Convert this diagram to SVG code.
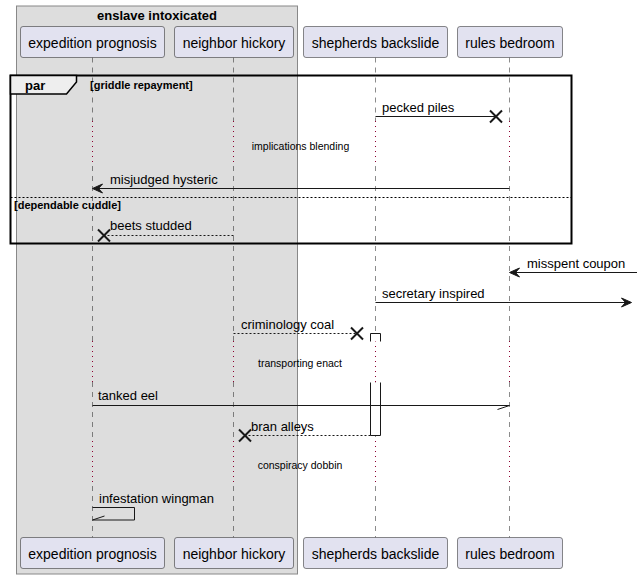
<svg xmlns="http://www.w3.org/2000/svg" width="637" height="579" viewBox="0 0 637 579">
<defs>
<style>
text{font-family:"Liberation Sans",Arial,sans-serif;fill:#000}
.p{fill:#E2E2F0;stroke:#181818;stroke-width:0.5}
.pt{font-size:14px;text-anchor:middle}
.ll{stroke:#181818;stroke-width:0.5;stroke-dasharray:5,5;fill:none}
.dl{stroke:#8B0030;stroke-width:1;stroke-dasharray:1,4;fill:none}
.m{stroke:#181818;stroke-width:1;fill:none}
.d{stroke:#181818;stroke-width:1;fill:none;stroke-dasharray:2,2}
.x{stroke:#181818;stroke-width:2;fill:none}
.ah{fill:#181818;stroke:#181818;stroke-width:1}
.ml{font-size:13px}
.dt{font-size:10.5px;text-anchor:middle}
.b{font-weight:bold}
</style>
</defs>
<g id="box-enslave">
<rect x="16.5" y="6" width="281" height="568" fill="#DDDDDD" stroke="#888888" stroke-width="1"/>
<text x="157" y="19.5" class="b" font-size="13" text-anchor="middle">enslave intoxicated</text>
</g>
<g id="lifelines">
<line x1="92.5" y1="57.5" x2="92.5" y2="121" class="ll"/>
<line x1="92.5" y1="121" x2="92.5" y2="166" class="dl"/>
<line x1="92.5" y1="166" x2="92.5" y2="341" class="ll"/>
<line x1="92.5" y1="341" x2="92.5" y2="382" class="dl"/>
<line x1="92.5" y1="382" x2="92.5" y2="441" class="ll"/>
<line x1="92.5" y1="441" x2="92.5" y2="486" class="dl"/>
<line x1="92.5" y1="486" x2="92.5" y2="537.5" class="ll"/>
<line x1="233.5" y1="57.5" x2="233.5" y2="121" class="ll"/>
<line x1="233.5" y1="121" x2="233.5" y2="166" class="dl"/>
<line x1="233.5" y1="166" x2="233.5" y2="341" class="ll"/>
<line x1="233.5" y1="341" x2="233.5" y2="382" class="dl"/>
<line x1="233.5" y1="382" x2="233.5" y2="441" class="ll"/>
<line x1="233.5" y1="441" x2="233.5" y2="486" class="dl"/>
<line x1="233.5" y1="486" x2="233.5" y2="537.5" class="ll"/>
<line x1="375.5" y1="57.5" x2="375.5" y2="121" class="ll"/>
<line x1="375.5" y1="121" x2="375.5" y2="166" class="dl"/>
<line x1="375.5" y1="166" x2="375.5" y2="341" class="ll"/>
<line x1="375.5" y1="341" x2="375.5" y2="382" class="dl"/>
<line x1="375.5" y1="382" x2="375.5" y2="441" class="ll"/>
<line x1="375.5" y1="441" x2="375.5" y2="486" class="dl"/>
<line x1="375.5" y1="486" x2="375.5" y2="537.5" class="ll"/>
<line x1="509.5" y1="57.5" x2="509.5" y2="121" class="ll"/>
<line x1="509.5" y1="121" x2="509.5" y2="166" class="dl"/>
<line x1="509.5" y1="166" x2="509.5" y2="341" class="ll"/>
<line x1="509.5" y1="341" x2="509.5" y2="382" class="dl"/>
<line x1="509.5" y1="382" x2="509.5" y2="441" class="ll"/>
<line x1="509.5" y1="441" x2="509.5" y2="486" class="dl"/>
<line x1="509.5" y1="486" x2="509.5" y2="537.5" class="ll"/>
</g>
<g id="p-expedition-top"><rect x="20.5" y="26.5" width="144" height="31" rx="2.5" class="p"/><text x="92.5" y="47.5" class="pt">expedition prognosis</text></g>
<g id="p-neighbor-top"><rect x="174.5" y="26.5" width="119" height="31" rx="2.5" class="p"/><text x="234" y="47.5" class="pt">neighbor hickory</text></g>
<g id="p-shepherds-top"><rect x="303.5" y="26.5" width="144" height="31" rx="2.5" class="p"/><text x="375.5" y="47.5" class="pt">shepherds backslide</text></g>
<g id="p-rules-top"><rect x="457.5" y="26.5" width="105" height="31" rx="2.5" class="p"/><text x="510" y="47.5" class="pt">rules bedroom</text></g>
<g id="p-expedition-bottom"><rect x="20.5" y="537.5" width="144" height="31" rx="2.5" class="p"/><text x="92.5" y="558.5" class="pt">expedition prognosis</text></g>
<g id="p-neighbor-bottom"><rect x="174.5" y="537.5" width="119" height="31" rx="2.5" class="p"/><text x="234" y="558.5" class="pt">neighbor hickory</text></g>
<g id="p-shepherds-bottom"><rect x="303.5" y="537.5" width="144" height="31" rx="2.5" class="p"/><text x="375.5" y="558.5" class="pt">shepherds backslide</text></g>
<g id="p-rules-bottom"><rect x="457.5" y="537.5" width="105" height="31" rx="2.5" class="p"/><text x="510" y="558.5" class="pt">rules bedroom</text></g>
<g id="activation">
<path d="M370.5,341.5 L370.5,333.5 L380.5,333.5 L380.5,341.5" fill="#FFFFFF" stroke="#181818" stroke-width="1"/>
<path d="M370.5,382.5 L370.5,435.5 L380.5,435.5 L380.5,382.5" fill="#FFFFFF" stroke="#181818" stroke-width="1"/>
</g>
<g id="frame-par">
<rect x="10.5" y="75.5" width="561" height="168" fill="none" stroke="#000" stroke-width="2"/>
<path d="M10.5,75.5 L76.5,75.5 L76.5,82 L66.5,94 L10.5,94 Z" fill="#EEEEEE" stroke="#000" stroke-width="1.5"/>
<text x="25" y="89.5" class="b" font-size="13">par</text>
<text x="90" y="88.5" class="b" font-size="11">[griddle repayment]</text>
<line x1="10.5" y1="197.5" x2="571.5" y2="197.5" stroke="#000" stroke-width="1" stroke-dasharray="2,2"/>
<text x="14" y="208.5" class="b" font-size="11">[dependable cuddle]</text>
</g>
<g id="connectors">
<line x1="375.5" y1="116.5" x2="496" y2="116.5" class="m"/>
<path d="M490,110.5 L502,122.5 M490,122.5 L502,110.5" class="x"/>
<text x="382" y="112" class="ml">pecked piles</text>
<text x="300.5" y="150" class="dt">implications blending</text>
<line x1="509.5" y1="188.5" x2="94" y2="188.5" class="m"/>
<polygon points="92.5,188.5 102.5,184 98.5,188.5 102.5,193" class="ah"/>
<text x="110" y="184" class="ml">misjudged hysteric</text>
<line x1="233.5" y1="235.5" x2="104" y2="235.5" class="d"/>
<path d="M98,229.5 L110,241.5 M98,241.5 L110,229.5" class="x"/>
<text x="110" y="230" class="ml">beets studded</text>
<line x1="637" y1="272.5" x2="511" y2="272.5" class="m"/>
<polygon points="509.5,272.5 519.5,268 515.5,272.5 519.5,277" class="ah"/>
<text x="527" y="268" class="ml">misspent coupon</text>
<line x1="375.5" y1="302.5" x2="630" y2="302.5" class="m"/>
<polygon points="631.5,302.5 621.5,298 625.5,302.5 621.5,307" class="ah"/>
<text x="382" y="298" class="ml">secretary inspired</text>
<line x1="233.5" y1="333.5" x2="357" y2="333.5" class="d"/>
<path d="M351,327.5 L363,339.5 M351,339.5 L363,327.5" class="x"/>
<text x="241" y="329" class="ml">criminology coal</text>
<text x="300" y="367" class="dt">transporting enact</text>
<line x1="92.5" y1="405.5" x2="509.5" y2="405.5" class="m"/>
<line x1="509.5" y1="405.5" x2="497.5" y2="409.5" class="m"/>
<text x="98" y="400" class="ml">tanked eel</text>
<line x1="370.5" y1="435.5" x2="245" y2="435.5" class="d"/>
<path d="M239,429.5 L251,441.5 M239,441.5 L251,429.5" class="x"/>
<text x="251" y="431" class="ml">bran alleys</text>
<text x="300" y="469" class="dt">conspiracy dobbin</text>
<path d="M92.5,507.5 L134.5,507.5 L134.5,520 L92.5,520" class="m"/>
<line x1="92.5" y1="520" x2="104.5" y2="516" class="m"/>
<text x="99" y="503" class="ml">infestation wingman</text>
</g>
</svg>
